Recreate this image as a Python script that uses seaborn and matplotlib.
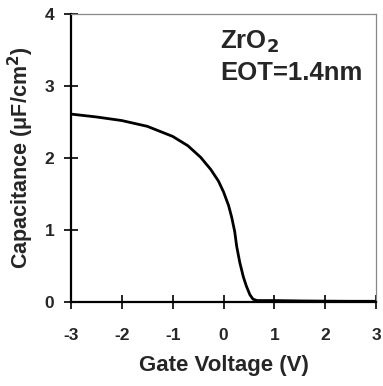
import matplotlib
matplotlib.use("Agg")
import matplotlib.pyplot as plt
import seaborn as sns
import numpy as np
import pandas as pd

gate_voltage = [-3.0, -2.5, -2.0, -1.5, -1.0, -0.7, -0.45, -0.25, -0.1, 0.0, 0.1, 0.16, 0.22, 0.26, 0.32, 0.39, 0.45, 0.52, 0.58, 0.66, 0.8, 1.0, 1.5, 2.0, 2.5, 3.0]
capacitance = [2.61, 2.57, 2.52, 2.44, 2.30, 2.17, 2.01, 1.84, 1.68, 1.53, 1.34, 1.18, 0.98, 0.77, 0.55, 0.35, 0.22, 0.10, 0.04, 0.02, 0.02, 0.02, 0.015, 0.012, 0.01, 0.01]
xticks = [-3, -2, -1, 0, 1, 2, 3]
yticks = [0, 1, 2, 3, 4]

df = pd.DataFrame({"V": gate_voltage, "C": capacitance})

sns.set_theme(style="ticks")
plt.rcParams['font.family'] = ['Liberation Sans', 'DejaVu Sans']
plt.rcParams['font.weight'] = 'bold'

fig = plt.figure(figsize=(3.83, 3.86), dpi=100)
ax = fig.add_axes([71/383, 1-302/386, (376-71)/383, (302-14)/386])
sns.lineplot(data=df, x="V", y="C", ax=ax, color="black", lw=2.0, sort=True)
ax.set_xlim(-3, 3)
ax.set_ylim(0, 4)
ax.set_xticks(xticks)
ax.set_yticks(yticks)
ax.set_xticklabels([str(t) for t in xticks], fontsize=12.5, fontweight='bold')
ax.set_yticklabels([str(t) for t in yticks], fontsize=12.5, fontweight='bold')
ax.tick_params(direction='inout', length=10, width=1.2, color='black')
ax.tick_params(axis='x', pad=14)
ax.tick_params(axis='y', pad=7)
for s in ['top', 'right']:
    ax.spines[s].set_color('#888888')
    ax.spines[s].set_linewidth(0.9)
for s in ['left', 'bottom']:
    ax.spines[s].set_color('black')
    ax.spines[s].set_linewidth(1.6)
ax.set_xlabel("Gate Voltage (V)", fontsize=16, fontweight='bold', labelpad=8)
ax.set_ylabel("Capacitance (\u03bcF/cm$^\\mathbf{2}$)", fontsize=15.5, fontweight='bold', labelpad=6)
ax.text(-0.07, 3.61, "ZrO$_\\mathbf{2}$", fontsize=18.5, fontweight='bold', ha='left', va='center')
ax.text(-0.07, 3.18, "EOT=1.4nm", fontsize=18.5, fontweight='bold', ha='left', va='center')
fig.savefig("out.png", dpi=100)
